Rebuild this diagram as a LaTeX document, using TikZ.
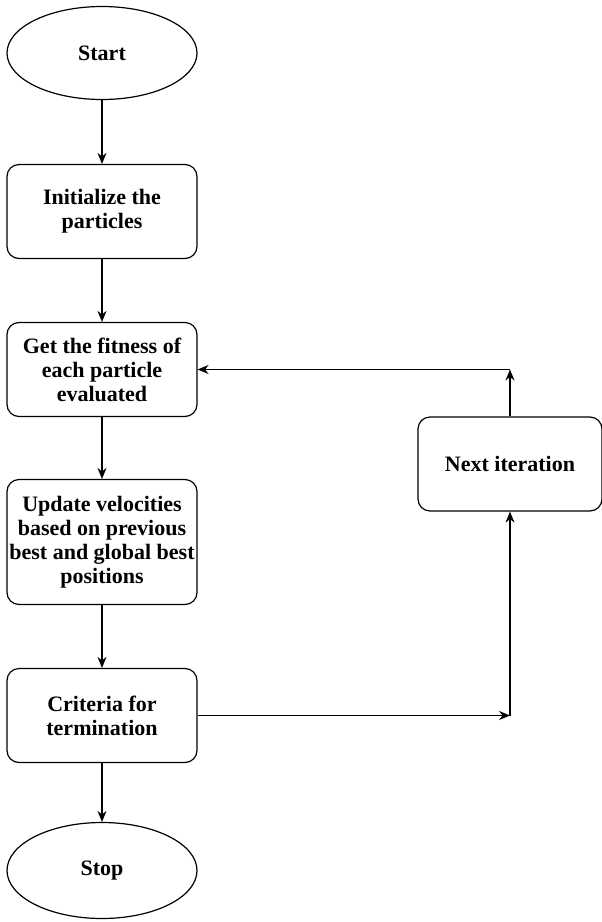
\documentclass[tikz,border=0pt]{standalone}
\usepackage{fontspec}
\setmainfont{Liberation Serif}
\usetikzlibrary{arrows.meta,shapes.geometric,positioning}

\begin{document}
\begin{tikzpicture}[x=1pt,y=1pt,line width=1.2pt,
    nodes={draw,rectangle,rounded corners=12pt,align=center,inner sep=2pt,minimum width=190pt,minimum height=94pt,font=\bfseries\fontsize{22}{24}\selectfont},
    flow/.style={-{Stealth[length=11pt,width=9pt]}}]
\useasboundingbox (0,0) rectangle (602,-922);
\node[ellipse,minimum height=93pt] (start) at (102,-53) {Start};
\node[below=63.8pt of start] (init) {Initialize the\\ particles};
\node[below=62.8pt of init] (fitness) {Get the fitness of\\ each particle\\ evaluated};
\node[below=61.8pt of fitness,minimum height=125pt] (update) {Update velocities\\ based on previous\\ best and global best\\ positions};
\node[below=62.8pt of update] (criteria) {Criteria for\\ termination};
\node[below=58.8pt of criteria,ellipse,minimum height=96pt] (stop) {Stop};
\node[minimum width=184pt] (next) at (510,-464) {Next iteration};
% main flow
\draw[flow] (start) -- (init);
\draw[flow] (init) -- (fitness);
\draw[flow] (fitness) -- (update);
\draw[flow] (update) -- (criteria);
\draw[flow] (criteria) -- (stop);
% loop back
\coordinate (low) at (next.south |- criteria.east);
\coordinate (high) at (next.north |- fitness.east);
\draw[flow] (criteria.east) -- (low);
\draw[flow] (low) -- (next.south);
\draw[flow] (next.north) -- (high);
\draw[flow] (high) -- (fitness.east);
\end{tikzpicture}
\end{document}
